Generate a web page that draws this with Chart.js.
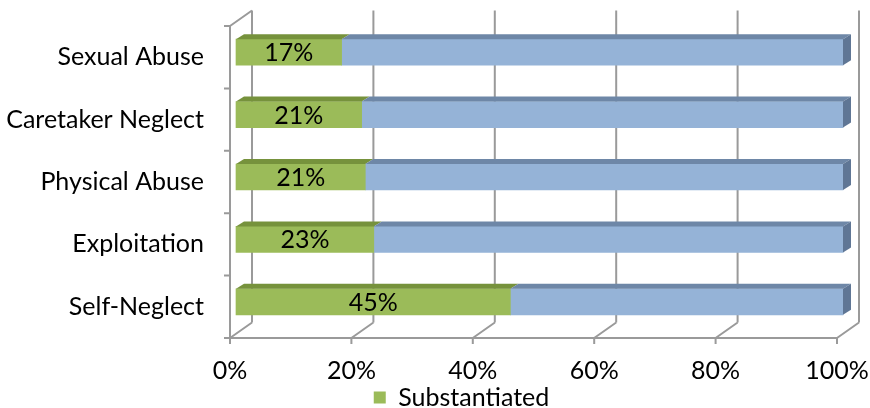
<!DOCTYPE html>
<html><head><meta charset="utf-8">
<script src="https://cdn.jsdelivr.net/npm/chart.js@4"></script>
<style>html,body{margin:0;padding:0;background:#fff}#wrap{width:870px;height:408px}</style>
</head><body><div id="wrap"><canvas id="c" width="870" height="408"></canvas></div>
<script>
const categories = ['Sexual Abuse', 'Caretaker Neglect', 'Physical Abuse', 'Exploitation', 'Self-Neglect'];
const substantiated = [17.4, 20.7, 21.3, 22.7, 45.2];
const substantiatedLabels = ['17%', '21%', '21%', '23%', '45%'];
const notSubstantiated = [82.6, 79.3, 78.7, 77.3, 54.8];
const tickValues = [0, 20, 40, 60, 80, 100];

const FONT = 'Lato';
const FS = 25;
const GRID = '#9a9a9a';
const BACK_DX = 22, BACK_DY = -15.5;   // back wall offset
const BAR_DX = 6, BAR_DY = -5;         // bar depth placement
const DEPTH_DX = 8, DEPTH_DY = -5;     // bar thickness in depth
const LEGEND_SHIFT = 43;

const frame3d = {
  id: 'frame3d',
  afterLayout(chart) {
    if (chart.legend) { chart.legend.left += LEGEND_SHIFT; chart.legend.right += LEGEND_SHIFT; }
  },
  beforeDatasetsDraw(chart) {
    const ctx = chart.ctx, a = chart.chartArea, xs = chart.scales.x;
    ctx.save();
    ctx.strokeStyle = GRID; ctx.lineWidth = 2;
    ctx.beginPath();
    tickValues.forEach(v => {
      const x = xs.getPixelForValue(v);
      ctx.moveTo(x + BACK_DX, a.top + BACK_DY); ctx.lineTo(x + BACK_DX, a.bottom + BACK_DY);
      ctx.moveTo(x, a.bottom); ctx.lineTo(x + BACK_DX, a.bottom + BACK_DY);
      ctx.moveTo(x, a.bottom); ctx.lineTo(x, a.bottom + 6);
    });
    ctx.moveTo(a.left, a.bottom); ctx.lineTo(a.right, a.bottom);
    ctx.moveTo(a.left, a.top); ctx.lineTo(a.left, a.bottom);
    ctx.moveTo(a.left, a.top); ctx.lineTo(a.left + BACK_DX, a.top + BACK_DY);
    const n = categories.length;
    for (let i = 0; i <= n; i++) {
      const y = a.top + i * a.height / n;
      ctx.moveTo(a.left - 6, y); ctx.lineTo(a.left, y);
    }
    ctx.stroke();
    ctx.restore();
    ctx.save();
    ctx.translate(BAR_DX, BAR_DY);
  },
  afterDatasetsDraw(chart) {
    const ctx = chart.ctx;
    const tops = ['#76923c', '#6e87a7'];
    const sideColor = '#5f7695';
    chart.data.datasets.forEach((ds, di) => {
      const meta = chart.getDatasetMeta(di);
      meta.data.forEach((bar, i) => {
        const p = bar.getProps(['x', 'y', 'base', 'height'], true);
        const l = Math.min(p.x, p.base), r = Math.max(p.x, p.base);
        const t = p.y - p.height / 2, b = p.y + p.height / 2;
        ctx.fillStyle = tops[di];
        ctx.beginPath();
        ctx.moveTo(l, t); ctx.lineTo(l + DEPTH_DX, t + DEPTH_DY);
        ctx.lineTo(r + DEPTH_DX, t + DEPTH_DY); ctx.lineTo(r, t); ctx.closePath();
        ctx.fill();
        if (di === chart.data.datasets.length - 1) {
          ctx.fillStyle = sideColor;
          ctx.beginPath();
          ctx.moveTo(r, t); ctx.lineTo(r + DEPTH_DX, t + DEPTH_DY);
          ctx.lineTo(r + DEPTH_DX, b + DEPTH_DY); ctx.lineTo(r, b); ctx.closePath();
          ctx.fill();
        }
        if (di === 0) {
          ctx.fillStyle = '#000';
          ctx.font = FS + 'px ' + FONT;
          ctx.textAlign = 'center'; ctx.textBaseline = 'middle';
          ctx.fillText(substantiatedLabels[i], (l + r) / 2, p.y + 1);
        }
      });
    });
    ctx.restore();
  }
};

new Chart(document.getElementById('c'), {
  type: 'bar',
  data: {
    labels: categories,
    datasets: [
      { label: 'Substantiated', data: substantiated, backgroundColor: '#9bbb59', barThickness: 26, clip: false },
      { label: 'Not Substantiated', data: notSubstantiated, backgroundColor: '#95b3d7', barThickness: 26, clip: false }
    ]
  },
  options: {
    indexAxis: 'y',
    responsive: false,
    animation: false,
    devicePixelRatio: 1,
    layout: { padding: { top: 26, right: 33, left: 0, bottom: -12 } },
    scales: {
      x: {
        stacked: true, min: 0, max: 100,
        afterBuildTicks: s => { s.ticks = tickValues.map(v => ({ value: v })); },
        afterFit: s => { s.height = 47; s.paddingLeft = 0; s.paddingRight = 0; },
        grid: { display: false, drawTicks: false },
        border: { display: false },
        ticks: { padding: 18, color: '#000', font: { family: FONT, size: FS }, callback: v => v + '%' }
      },
      y: {
        stacked: true,
        afterFit: s => { s.width = 230; s.paddingTop = 0; s.paddingBottom = 0; },
        grid: { display: false, drawTicks: false },
        border: { display: false },
        ticks: { padding: 26, color: '#000', font: { family: FONT, size: FS } }
      }
    },
    plugins: {
      tooltip: { enabled: false },
      legend: {
        position: 'bottom',
        labels: {
          filter: item => item.datasetIndex === 0,
          boxWidth: 12, boxHeight: 12, padding: 0,
          color: '#000', font: { family: FONT, size: FS }
        }
      }
    }
  },
  plugins: [frame3d]
});
</script>
</body></html>
